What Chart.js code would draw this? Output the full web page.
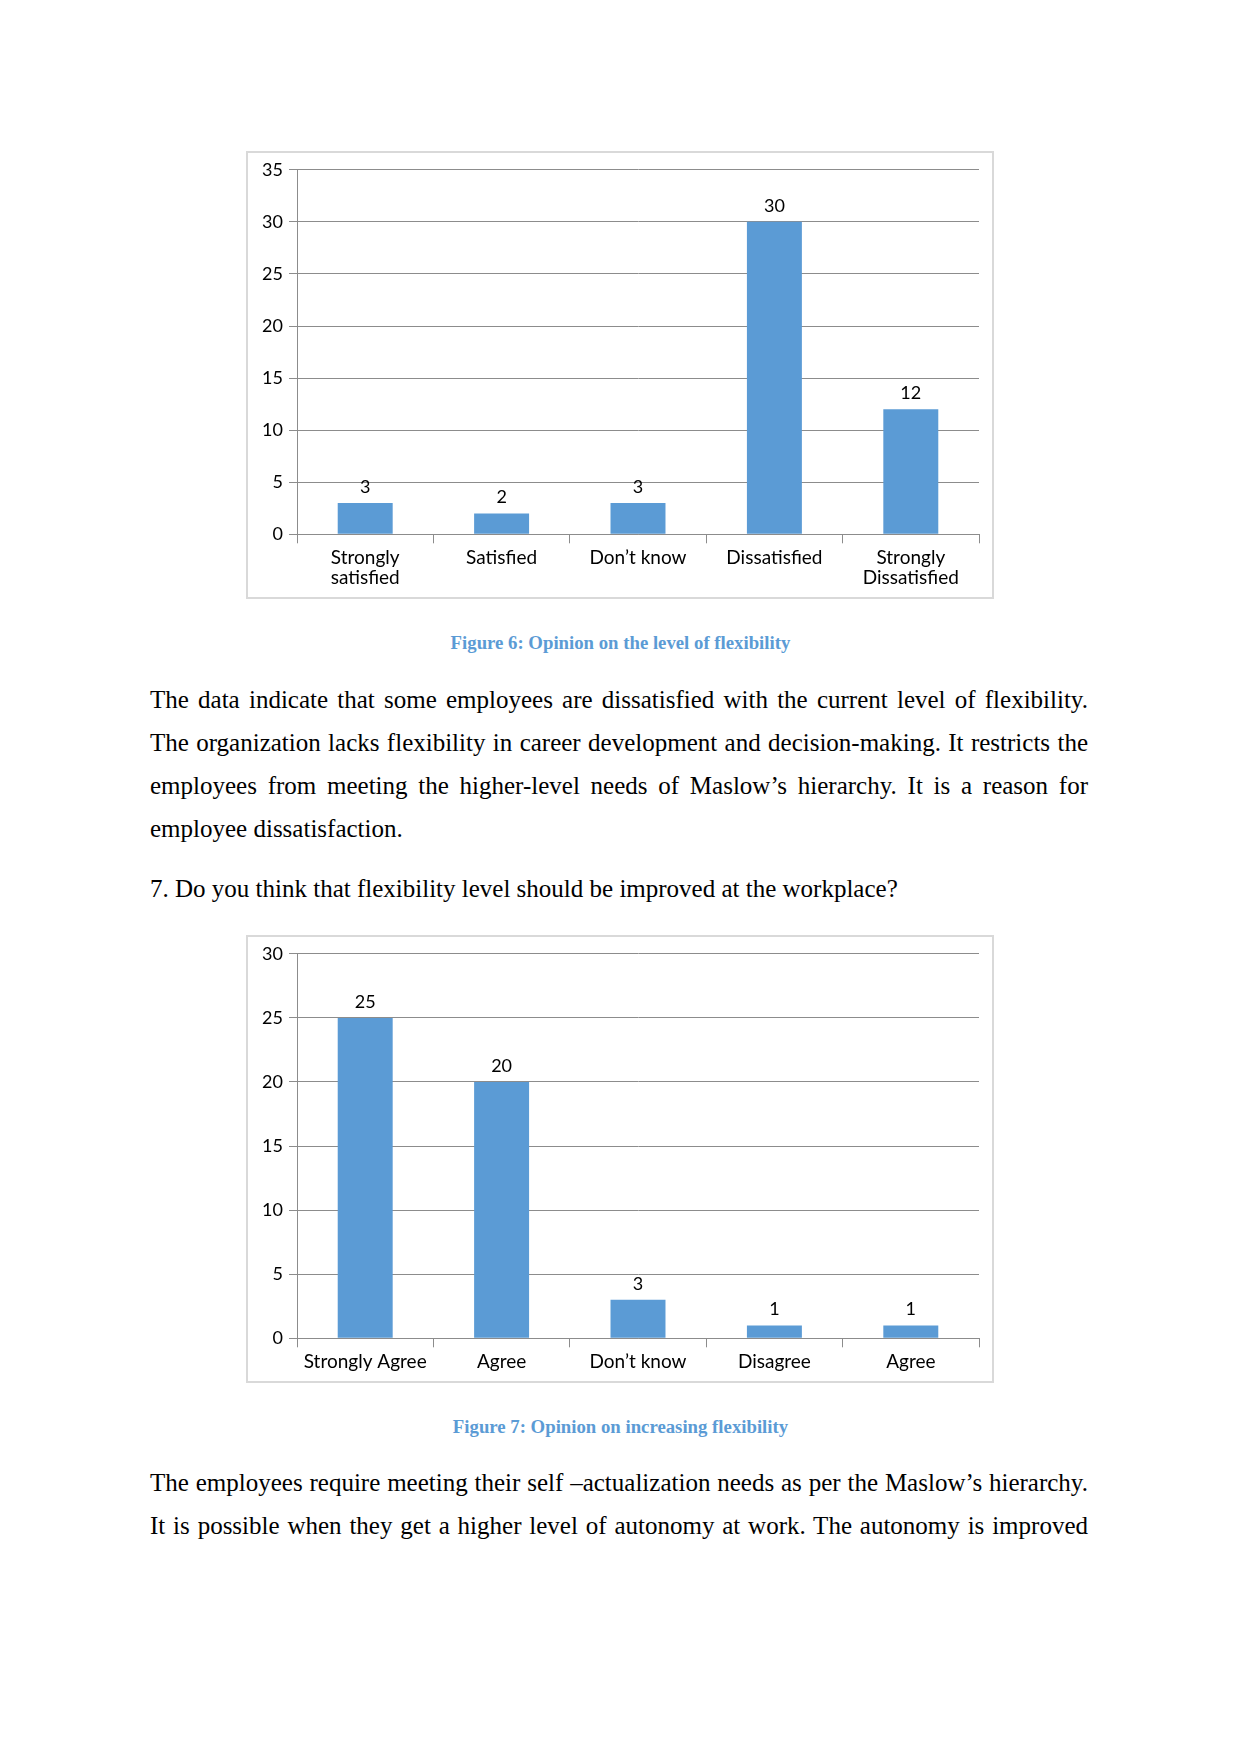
<!DOCTYPE html>
<html>
<head>
<meta charset="utf-8">
<script src="https://cdn.jsdelivr.net/npm/chart.js@4.4.0/dist/chart.umd.min.js"></script>
<style>
  body { margin: 0; background: #fff; }
  #page { position: relative; width: 1241px; height: 1754px; background: #fff; overflow: hidden; }
  .frame { position: absolute; left: 246px; width: 748px; height: 448px; box-sizing: border-box; border: 2px solid #d9d9d9; background: #fff; }
  .frame canvas { display: block; }
  .caption { position: absolute; left: 150px; width: 941px; text-align: center; font-family: "Liberation Serif", serif; font-weight: bold; font-size: 18.75px; line-height: 24px; color: #5b9bd5; }
  .line { position: absolute; left: 150px; width: 938px; font-family: "Liberation Serif", serif; font-size: 25px; line-height: 43px; color: #000; white-space: nowrap; }
  .just { text-align: justify; text-align-last: justify; white-space: normal; }
</style>
</head>
<body>
<div id="page">
  <div class="frame" style="top:151px"><canvas id="fig6"></canvas></div>
  <div class="caption" style="top:631px">Figure 6: Opinion on the level of flexibility</div>

  <div class="line just" style="top:678px">The data indicate that some employees are dissatisfied with the current level of flexibility.</div>
  <div class="line just" style="top:721px">The organization lacks flexibility in career development and decision-making. It restricts the</div>
  <div class="line just" style="top:764px">employees from meeting the higher-level needs of Maslow’s hierarchy. It is a reason for</div>
  <div class="line" style="top:807px">employee dissatisfaction.</div>

  <div class="line" style="top:867px">7. Do you think that flexibility level should be improved at the workplace?</div>

  <div class="frame" style="top:935px"><canvas id="fig7"></canvas></div>
  <div class="caption" style="top:1415px">Figure 7: Opinion on increasing flexibility</div>

  <div class="line just" style="top:1461px">The employees require meeting their self –actualization needs as per the Maslow’s hierarchy.</div>
  <div class="line just" style="top:1504px">It is possible when they get a higher level of autonomy at work. The autonomy is improved</div>
</div>

<script>
const fig6Labels = [["Strongly", "satisfied"], "Satisfied", "Don’t know", "Dissatisfied", ["Strongly", "Dissatisfied"]];
const fig6Values = [3, 2, 3, 30, 12];
const fig6Max = 35;

const fig7Labels = ["Strongly Agree", "Agree", "Don’t know", "Disagree", "Agree"];
const fig7Values = [25, 20, 3, 1, 1];
const fig7Max = 30;

const tickStep = 5;
const barColor = "#5b9bd5";
const gridColor = "#8c8c8c";

Chart.defaults.font.family = "Lato";
Chart.defaults.font.size = 18;
Chart.defaults.color = "#000";

// value labels above each bar
const barLabels = {
  id: "barLabels",
  afterDatasetsDraw(chart) {
    const ctx = chart.ctx;
    const meta = chart.getDatasetMeta(0);
    const values = chart.data.datasets[0].data;
    ctx.save();
    ctx.font = "18px Lato";
    ctx.fillStyle = "#000";
    ctx.textAlign = "center";
    ctx.textBaseline = "middle";
    meta.data.forEach((bar, i) => {
      ctx.fillText(values[i], bar.x, bar.y - 16);
    });
    ctx.restore();
  },
};

function makeChart(id, labels, values, yMax, xHeight) {
  const canvas = document.getElementById(id);
  canvas.width = 744;
  canvas.height = 444;
  canvas.style.width = "744px";
  canvas.style.height = "444px";
  return new Chart(canvas.getContext("2d"), {
    type: "bar",
    data: {
      labels: labels,
      datasets: [
        {
          data: values,
          backgroundColor: barColor,
          categoryPercentage: 1,
          barPercentage: 0.403,
        },
      ],
    },
    options: {
      responsive: false,
      animation: false,
      layout: { padding: { top: 16, right: 13, left: 0, bottom: 0 } },
      plugins: { legend: { display: false }, tooltip: { enabled: false } },
      scales: {
        x: {
          grid: { drawOnChartArea: false, drawTicks: true, tickLength: 9, color: gridColor, offset: true },
          border: { display: true, color: gridColor },
          ticks: { padding: 5, font: { size: 19, lineHeight: 1.05 }, maxRotation: 0, autoSkip: false },
          afterFit(scale) { scale.height = xHeight; },
        },
        y: {
          min: 0,
          max: yMax,
          ticks: { stepSize: tickStep, padding: 6, font: { size: 18 } },
          grid: { color: gridColor, tickLength: 8 },
          border: { display: true, color: gridColor },
          afterFit(scale) { scale.width = 49; },
        },
      },
    },
    plugins: [barLabels],
  });
}

makeChart("fig6", fig6Labels, fig6Values, fig6Max, 62.7);
makeChart("fig7", fig7Labels, fig7Values, fig7Max, 42.7);
</script>
</body>
</html>
